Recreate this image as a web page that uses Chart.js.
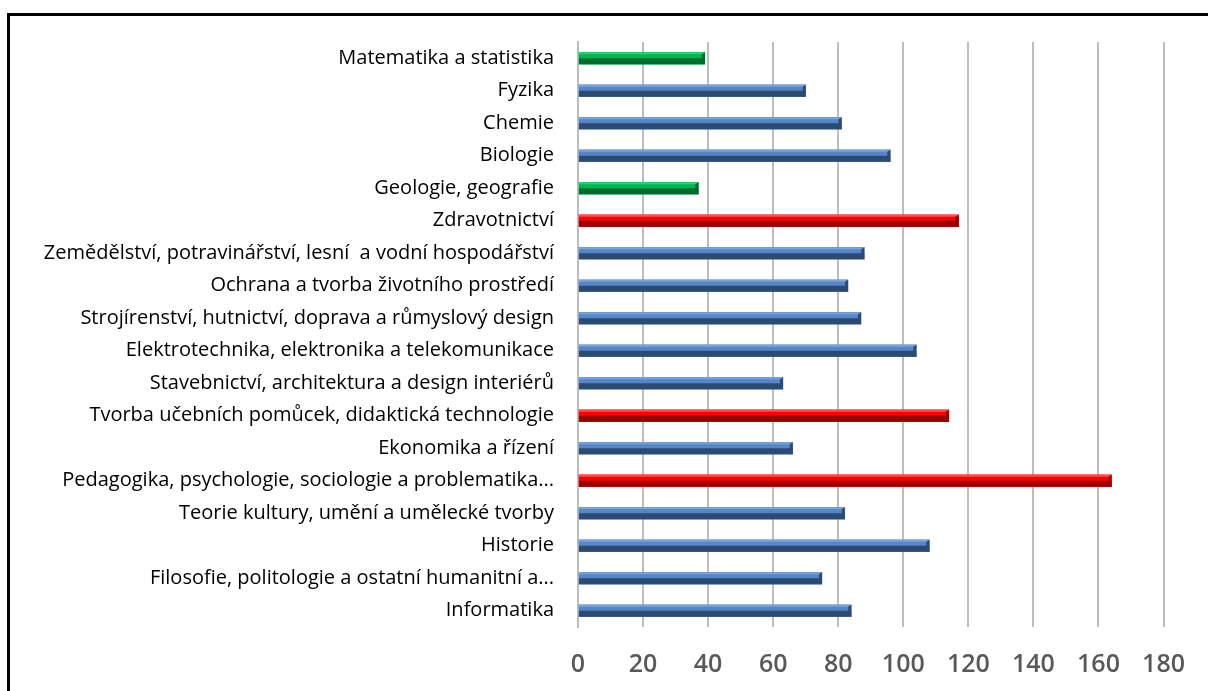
<!DOCTYPE html>
<html>
<head>
<meta charset="utf-8">
<script src="https://cdn.jsdelivr.net/npm/chart.js@4.4.1/dist/chart.umd.min.js"></script>
<style>
  html, body { margin: 0; padding: 0; background: #fff; overflow: hidden; }
  #wrap { position: relative; width: 1208px; height: 691px; }
  #frame {
    position: absolute; left: 7px; top: 13px; width: 1400px; height: 900px;
    border-left: 3px solid #000; border-top: 3px solid #000;
  }
  canvas { position: absolute; left: 0; top: 0; }
</style>
</head>
<body>
<div id="wrap">
  <div id="frame"></div>
  <canvas id="chart" width="1208" height="691"></canvas>
</div>
<script>
// categories, top to bottom
const labels = [
  "Matematika a statistika",
  "Fyzika",
  "Chemie",
  "Biologie",
  "Geologie, geografie",
  "Zdravotnictví",
  "Zemědělství, potravinářství, lesní  a vodní hospodářství",
  "Ochrana a tvorba životního prostředí",
  "Strojírenství, hutnictví, doprava a růmyslový design",
  "Elektrotechnika, elektronika a telekomunikace",
  "Stavebnictví, architektura a design interiérů",
  "Tvorba učebních pomůcek, didaktická technologie",
  "Ekonomika a řízení",
  "Pedagogika, psychologie, sociologie a problematika...",
  "Teorie kultury, umění a umělecké tvorby",
  "Historie",
  "Filosofie, politologie a ostatní humanitní a...",
  "Informatika",
];

// three colour groups, null where the category belongs to another group
const blueValues = [null, 70, 81, 96, null, null, 88, 83, 87, 104, 63, null, 66, null, 82, 108, 75, 84];
const greenValues = [39, null, null, null, 37, null, null, null, null, null, null, null, null, null, null, null, null, null];
const redValues = [null, null, null, null, null, 117, null, null, null, null, null, 114, null, 164, null, null, null, null];

const xTicks = [0, 20, 40, 60, 80, 100, 120, 140, 160, 180];

// darker lower half of each bar, like the office 3D bar look
const shadeBars = {
  id: "shadeBars",
  afterDatasetsDraw(chart) {
    const ctx = chart.ctx;
    chart.data.datasets.forEach((ds, i) => {
      const meta = chart.getDatasetMeta(i);
      meta.data.forEach((bar, j) => {
        if (ds.data[j] == null) return;
        const h = bar.height;
        const top = bar.y - h / 2;
        const left = bar.base;
        const w = bar.x - bar.base;
        ctx.save();
        ctx.fillStyle = ds.darkColor;
        ctx.fillRect(left, top + h / 2, w, h / 2);
        ctx.fillStyle = ds.lightEdge;
        ctx.fillRect(left, top, w, 2);
        // bevel at the end
        ctx.beginPath();
        ctx.moveTo(bar.x - 3, top + 2);
        ctx.lineTo(bar.x, top);
        ctx.lineTo(bar.x, top + h);
        ctx.lineTo(bar.x - 3, top + h - 2);
        ctx.closePath();
        ctx.fillStyle = ds.darkColor;
        ctx.fill();
        ctx.restore();
      });
    });
  },
};

function barSet(name, data, color, dark, edge) {
  return {
    label: name,
    data: data,
    backgroundColor: color,
    darkColor: dark,
    lightEdge: edge,
    borderWidth: 0,
    barThickness: 12,
    grouped: false,
    skipNull: true,
  };
}

new Chart(document.getElementById("chart"), {
  type: "bar",
  data: {
    labels: labels,
    datasets: [
      barSet("blue", blueValues, "#5586c8", "#2c4b73", "#7aa3da"),
      barSet("green", greenValues, "#00b650", "#006b2e", "#30d070"),
      barSet("red", redValues, "#ff0000", "#990000", "#ff5050"),
    ],
  },
  plugins: [shadeBars],
  options: {
    indexAxis: "y",
    responsive: false,
    animation: false,
    layout: { padding: { top: 42, right: 40, left: 0, bottom: 0 } },
    plugins: {
      legend: { display: false },
      tooltip: { enabled: false },
    },
    scales: {
      x: {
        min: 0,
        max: 180,
        afterBuildTicks: (scale) => {
          scale.ticks = xTicks.map((v) => ({ value: v }));
        },
        afterFit: (scale) => {
          scale.height = 64;
        },
        grid: { color: "#bdbdbd", lineWidth: 2, drawTicks: false },
        border: { display: false },
        ticks: {
          padding: 23,
          color: "#595959",
          font: { family: "Open Sans", size: 25, weight: "600" },
        },
      },
      y: {
        afterFit: (scale) => {
          scale.width = 578;
        },
        grid: { display: false },
        border: { display: true, color: "#bdbdbd", width: 2 },
        ticks: {
          padding: 16,
          color: "#000",
          autoSkip: false,
          font: { family: "Open Sans", size: 20 },
        },
      },
    },
  },
});
</script>
</body>
</html>
